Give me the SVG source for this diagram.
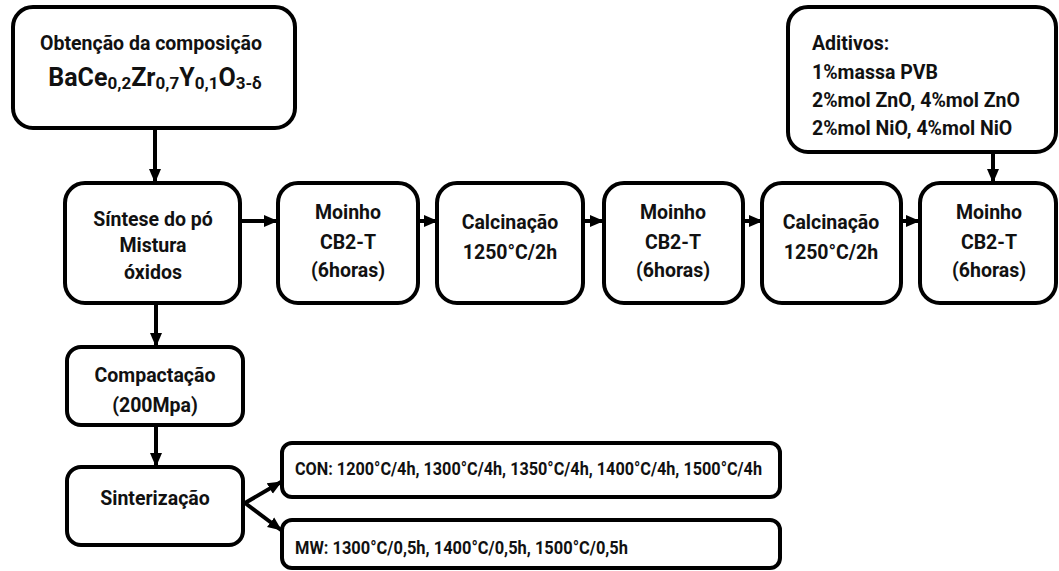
<svg xmlns="http://www.w3.org/2000/svg" width="1059" height="571" viewBox="0 0 1059 571">
<defs>
<marker id="ah" markerUnits="userSpaceOnUse" markerWidth="14" markerHeight="14" viewBox="0 0 14 14" refX="13" refY="7" orient="auto">
<path d="M0,1 L14,7 L0,13 Z" fill="#000"/>
</marker>
<style>
.box{fill:#fff;stroke:#000;stroke-width:4}
.t{font-family:Roboto,"Open Sans","Liberation Sans",sans-serif;font-weight:bold;font-size:19.5px;fill:#111}
.c{text-anchor:middle}
.s{font-size:18px}
.con{stroke:#000;stroke-width:4;fill:none;marker-end:url(#ah)}
</style>
</defs>
<rect width="1059" height="571" fill="#fff"/>
<g id="connectors">
<line class="con" x1="155" y1="128" x2="155" y2="182"/>
<line class="con" x1="240" y1="221" x2="277" y2="221"/>
<line class="con" x1="418" y1="221" x2="437" y2="221"/>
<line class="con" x1="583" y1="221" x2="603" y2="221"/>
<line class="con" x1="743" y1="221" x2="762" y2="221"/>
<line class="con" x1="901" y1="221" x2="919" y2="221"/>
<line class="con" x1="993" y1="152" x2="993" y2="182"/>
<line class="con" x1="156" y1="303" x2="156" y2="346"/>
<line class="con" x1="156" y1="425" x2="156" y2="466"/>
<line class="con" x1="245" y1="503" x2="281" y2="482"/>
<line class="con" x1="245" y1="503" x2="281" y2="530"/>
</g>
<g id="n-obtencao">
<rect class="box" x="13" y="7" width="282" height="121" rx="20"/>
<text class="t c" x="151" y="50">Obtenção da composição</text>
<text class="t c" x="155" y="86" style="font-size:25px">BaCe<tspan style="font-size:17px" dy="3">0,2</tspan><tspan dy="-3">Zr</tspan><tspan style="font-size:17px" dy="3">0,7</tspan><tspan dy="-3">Y</tspan><tspan style="font-size:17px" dy="3">0,1</tspan><tspan dy="-3">O</tspan><tspan style="font-size:17px" dy="3">3-δ</tspan></text>
</g>
<g id="n-aditivos">
<rect class="box" x="788" y="7" width="268" height="145" rx="20"/>
<text class="t" x="812" y="50">Aditivos:</text>
<text class="t" x="812" y="79">1%massa PVB</text>
<text class="t" x="812" y="107">2%mol ZnO, 4%mol ZnO</text>
<text class="t" x="812" y="135">2%mol NiO, 4%mol NiO</text>
</g>
<g id="n-sintese">
<rect class="box" x="65" y="183" width="175" height="120" rx="20"/>
<text class="t c" x="153" y="226">Síntese do pó</text>
<text class="t c" x="153" y="252">Mistura</text>
<text class="t c" x="153" y="279">óxidos</text>
</g>
<g id="n-moinho1">
<rect class="box" x="278" y="183" width="140" height="120" rx="20"/>
<text class="t c" x="348" y="219">Moinho</text>
<text class="t c" x="348" y="249">CB2-T</text>
<text class="t c" x="348" y="277">(6horas)</text>
</g>
<g id="n-calc1">
<rect class="box" x="437" y="183" width="146" height="120" rx="20"/>
<text class="t c" x="510" y="229">Calcinação</text>
<text class="t c" x="510" y="259">1250°C/2h</text>
</g>
<g id="n-moinho2">
<rect class="box" x="604" y="183" width="139" height="120" rx="20"/>
<text class="t c" x="673" y="219">Moinho</text>
<text class="t c" x="673" y="249">CB2-T</text>
<text class="t c" x="673" y="277">(6horas)</text>
</g>
<g id="n-calc2">
<rect class="box" x="762" y="183" width="139" height="120" rx="20"/>
<text class="t c" x="831" y="229">Calcinação</text>
<text class="t c" x="831" y="259">1250°C/2h</text>
</g>
<g id="n-moinho3">
<rect class="box" x="920" y="183" width="136" height="120" rx="20"/>
<text class="t c" x="989" y="219">Moinho</text>
<text class="t c" x="989" y="249">CB2-T</text>
<text class="t c" x="989" y="277">(6horas)</text>
</g>
<g id="n-compactacao">
<rect class="box" x="67" y="347" width="176" height="78" rx="14"/>
<text class="t c" x="155" y="382">Compactação</text>
<text class="t c" x="155" y="412">(200Mpa)</text>
</g>
<g id="n-sinterizacao">
<rect class="box" x="67" y="467" width="176" height="78" rx="14"/>
<text class="t c" x="155" y="505">Sinterização</text>
</g>
<g id="n-con">
<rect class="box" x="282" y="443" width="498" height="54" rx="10"/>
<text class="t s" x="295" y="475" textLength="467" lengthAdjust="spacingAndGlyphs">CON: 1200°C/4h, 1300°C/4h, 1350°C/4h, 1400°C/4h, 1500°C/4h</text>
</g>
<g id="n-mw">
<rect class="box" x="282" y="520" width="498" height="48" rx="10"/>
<text class="t s" x="295" y="554" textLength="333" lengthAdjust="spacingAndGlyphs">MW: 1300°C/0,5h, 1400°C/0,5h, 1500°C/0,5h</text>
</g>
</svg>
